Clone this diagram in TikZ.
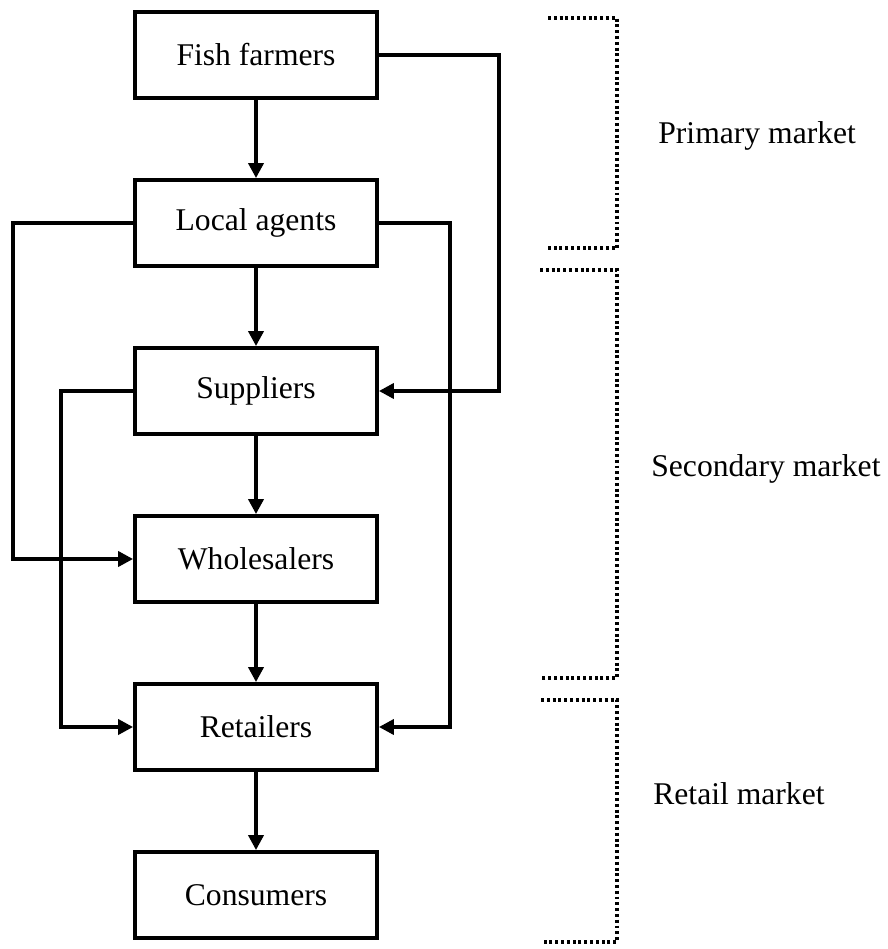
\documentclass[tikz,border=0pt]{standalone}
\usepackage{fontspec}
\setmainfont{Liberation Serif}
\usepackage{tikz}
\usetikzlibrary{arrows.meta,positioning,calc}

\begin{document}
\begin{tikzpicture}[x=0.02cm, y=-0.02cm,
    box/.style={draw, line width=2.2pt, minimum width=4.84cm, minimum height=1.72cm, inner sep=0pt, font=\fontsize{18}{22}\selectfont},
    flow/.style={line width=2.1pt, -{Triangle[length=0.3cm, width=0.3cm]}},
    bracket/.style={line width=2.2pt, dash pattern=on 1.7pt off 1.6pt},
    lbl/.style={anchor=west, inner sep=0pt, font=\fontsize{18}{22}\selectfont}]
      \useasboundingbox (0,0) rectangle (887,949);

      % chain of actors
      \node[box] (fish) at (256, 55) {Fish farmers};
      \node[box] (local) at (256, 223) {Local agents};
      \node[box] (supp) at (256, 391) {Suppliers};
      \node[box] (whole) at (256, 559) {Wholesalers};
      \node[box] (retail) at (256, 727) {Retailers};
      \node[box] (cons) at (256, 895) {Consumers};

      \draw[flow] (fish) -- (local);
      \draw[flow] (local) -- (supp);
      \draw[flow] (supp) -- (whole);
      \draw[flow] (whole) -- (retail);
      \draw[flow] (retail) -- (cons);

      % side routes
      \draw[flow] (local.west) -- ++(-120,0) |- (whole.west);
      \draw[flow] (supp.west) -- ++(-72,0) |- (retail.west);
      \draw[flow] (fish.east) -- ++(120,0) |- (supp.east);
      \draw[flow] (local.east) -- ++(71,0) |- (retail.east);

      % market levels
      \draw[bracket] (548,18) -- (617,18) -- (617,248) -- (548,248);
      \draw[bracket] (540,270) -- (617,270) -- (617,678) -- (540,678);
      \draw[bracket] (541,700) -- (617,700) -- (617,942) -- (541,942);
      \node[lbl] (primary) at (658, 136) {Primary market};
      \node[lbl] (secondary) at (651, 469) {Secondary market};
      \node[lbl] (retailmkt) at (653, 794) {Retail market};
    \end{tikzpicture}
\end{document}
